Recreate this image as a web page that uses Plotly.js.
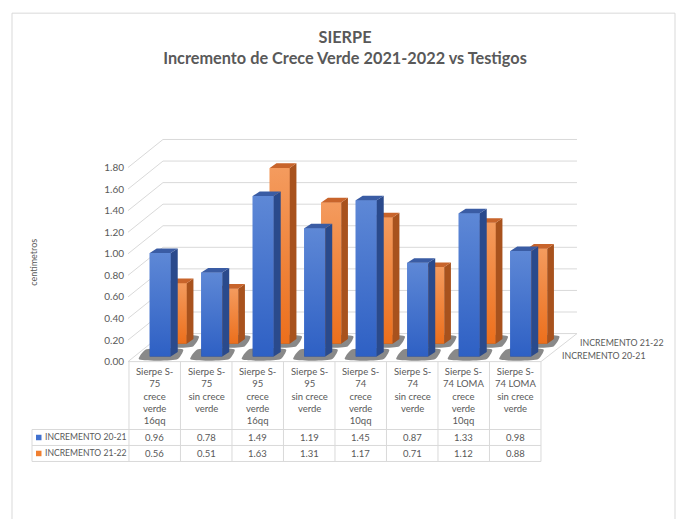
<!DOCTYPE html>
<html>
<head>
<meta charset="utf-8">
<script src="https://cdn.plot.ly/plotly-3.0.1.min.js"></script>
<style>html,body{margin:0;padding:0;background:#fff;}#chart{width:676px;height:519px;}</style>
</head>
<body>
<div id="chart"></div>
<script>
// ---- data ----
const categories = [
  "Sierpe S-<br>75<br>crece<br>verde<br>16qq",
  "Sierpe S-<br>75<br>sin crece<br>verde",
  "Sierpe S-<br>95<br>crece<br>verde<br>16qq",
  "Sierpe S-<br>95<br>sin crece<br>verde",
  "Sierpe S-<br>74<br>crece<br>verde<br>10qq",
  "Sierpe S-<br>74<br>sin crece<br>verde",
  "Sierpe S-<br>74 LOMA<br>crece<br>verde<br>10qq",
  "Sierpe S-<br>74 LOMA<br>sin crece<br>verde"
];
const inc2021 = [0.96, 0.78, 1.49, 1.19, 1.45, 0.87, 1.33, 0.98];
const inc2122 = [0.56, 0.51, 1.63, 1.31, 1.17, 0.71, 1.12, 0.88];
const seriesNames = ["INCREMENTO 20-21", "INCREMENTO 21-22"];
const yTicks = [0, 0.2, 0.4, 0.6, 0.8, 1.0, 1.2, 1.4, 1.6, 1.8];
const yTitle = "centimetros";
const chartTitle = "SIERPE<br>Incremento de Crece Verde 2021-2022 vs Testigos";

// ---- geometry / style ----
const W = 676, H = 519;
const L = 128, R = 600, T = 120;
const xRange = [-0.519, 8.646];
const yRange = [-0.05, 2.2407];
const plotH = (yRange[1] - yRange[0]) * 108;
const plotBottom = T + plotH;
const B = H - plotBottom;
const pxPerX = (R - L) / (xRange[1] - xRange[0]);
const pxPerY = 108;

const FONT = "Lato, 'Open Sans', sans-serif";
const TXT = "#595959";
const GRID = "#D9D9D9";

const blue = {front: "#4171CF", light: "#5E88D6", dark: "#2E60C4", side: "#2A4A8C", top: "#3A5CA4"};
const orange = {front: "#F07F30", light: "#F49B5E", dark: "#EC6F1C", side: "#A8521D", top: "#C8642B"};

const depth = 0.26;          // back wall offset (y units)
const wallLeft = 0.16, wallRight = 8.199, frontLeft = xRange[0], frontRight = 7.5;

const idx = categories.map((_, i) => i);

function paperX(xd) { return (xd - xRange[0]) / (xRange[1] - xRange[0]); }
function pX(px) { return (px - L) / (R - L); }
function pY(py) { return (plotBottom - py) / plotH; }

// bar geometry per series
const gBlue = {base: 5 / pxPerY, off: -5 / pxPerX, w: 21 / pxPerX, dx: 7 / pxPerX, dy: 4.5 / pxPerY};
const gOrange = {base: 18 / pxPerY, off: 12 / pxPerX, w: 20 / pxPerX, dx: 6.7 / pxPerX, dy: 4.7 / pxPerY};

function faces(vals, g) {
  const sx = [], sy = [], tx = [], ty = [], hx = [], hy = [];
  vals.forEach((v, i) => {
    const x0 = i + g.off, x1 = x0 + g.w, b = g.base, t = g.base + v;
    sx.push(x1, x1 + g.dx, x1 + g.dx, x1, x1, null);
    sy.push(b, b + g.dy, t + g.dy, t, b, null);
    tx.push(x0, x0 + g.dx, x1 + g.dx, x1, x0, null);
    ty.push(t, t + g.dy, t + g.dy, t, t, null);
    // soft floor shadow at the foot of the bar
    const s = 11 / pxPerX, e = 2.5 / pxPerY;
    hx.push(x0 - s, x1 + g.dx, x1 + g.dx + 0.5 * s, x0 - 0.4 * s, x0 - s, null);
    hy.push(b - e, b - e, b + g.dy + e, b + g.dy + e, b - e, null);
  });
  return {sx, sy, tx, ty, hx, hy};
}

function seriesTraces(vals, g, col, yax, name) {
  const f = faces(vals, g);
  const out = [
    {type: "scatter", mode: "lines", x: f.hx, y: f.hy, fill: "toself", fillcolor: "rgba(40,40,40,0.55)",
     line: {width: 0, color: "rgba(0,0,0,0)", shape: "spline", smoothing: 0.6}, yaxis: yax, showlegend: false, hoverinfo: "skip"},
    {type: "bar", x: idx, y: vals, base: g.base, width: g.w, offset: g.off,
     marker: {color: col.front, line: {width: 0}}, yaxis: yax, name: name,
     showlegend: false, hoverinfo: "y+name"}
  ];
  // vertical shading of each front face
  vals.forEach((v, i) => {
    const x0 = i + g.off, x1 = x0 + g.w, b = g.base, t = g.base + v;
    out.push({type: "scatter", mode: "lines", x: [x0, x1, x1, x0, x0], y: [b, b, t, t, b], fill: "toself",
      fillgradient: {type: "vertical", colorscale: [[0, col.dark], [1, col.light]]},
      line: {width: 0, color: col.front}, yaxis: yax, showlegend: false, hoverinfo: "skip"});
  });
  out.push(
    {type: "scatter", mode: "lines", x: f.sx, y: f.sy, fill: "toself", fillcolor: col.side,
     line: {width: 0, color: col.side}, yaxis: yax, showlegend: false, hoverinfo: "skip"},
    {type: "scatter", mode: "lines", x: f.tx, y: f.ty, fill: "toself", fillcolor: col.top,
     line: {width: 0, color: col.top}, yaxis: yax, showlegend: false, hoverinfo: "skip"}
  );
  return out;
}

const data = [
  ...seriesTraces(inc2122, gOrange, orange, "y", seriesNames[1]),
  ...seriesTraces(inc2021, gBlue, blue, "y2", seriesNames[0])
];

// ---- shapes ----
const shapes = [];
const gl = {color: GRID, width: 1};
// outer border
shapes.push({type: "rect", xref: "paper", yref: "paper", x0: pX(12), x1: pX(675), y0: pY(13), y1: pY(540),
  line: {color: GRID, width: 1}, layer: "below"});
// back wall gridlines + side diagonals
yTicks.forEach(v => {
  if (v > 0) {
    shapes.push({type: "line", xref: "x", yref: "y", x0: wallLeft, x1: wallRight, y0: v + depth, y1: v + depth, line: gl, layer: "below"});
    shapes.push({type: "line", xref: "x", yref: "y", x0: frontLeft, x1: wallLeft, y0: v, y1: v + depth, line: gl, layer: "below"});
  }
});
// floor
shapes.push({type: "path", xref: "x", yref: "y",
  path: `M${frontLeft},0 L${frontRight},0 L${wallRight},${depth} L${wallLeft},${depth} Z`,
  line: gl, fillcolor: "rgba(255,255,255,0)", layer: "below"});

// ---- data table ----
const tTop = 362, tHead = 430, tRow1 = 446, tBot = 462, tLeft = 32;
const colEdges = categories.map((_, k) => paperX(k - 0.5)).concat([paperX(categories.length - 0.5)]);
colEdges.forEach(xe => {
  shapes.push({type: "line", xref: "paper", yref: "paper", x0: xe, x1: xe, y0: pY(tTop), y1: pY(tBot), line: gl});
});
[tHead, tRow1, tBot].forEach(yy => {
  shapes.push({type: "line", xref: "paper", yref: "paper", x0: pX(tLeft), x1: colEdges[colEdges.length - 1], y0: pY(yy), y1: pY(yy), line: gl});
});
shapes.push({type: "line", xref: "paper", yref: "paper", x0: pX(tLeft), x1: pX(tLeft), y0: pY(tHead), y1: pY(tBot), line: gl});
// legend keys in table
[[blue.front, (tHead + tRow1) / 2], [orange.front, (tRow1 + tBot) / 2]].forEach(([c, yc]) => {
  shapes.push({type: "rect", xref: "paper", yref: "paper", x0: pX(36), x1: pX(41.5), y0: pY(yc - 2.75), y1: pY(yc + 2.75),
    fillcolor: c, line: {width: 0}});
});

const annotations = [];
// header
categories.forEach((c, i) => {
  annotations.push({xref: "paper", yref: "paper", x: paperX(i), y: pY(tTop + 2), xanchor: "center", yanchor: "top",
    text: c, showarrow: false, font: {family: FONT, size: 9.5, color: TXT}, align: "center"});
});
// values
[[inc2021, (tHead + tRow1) / 2], [inc2122, (tRow1 + tBot) / 2]].forEach(([vals, yc]) => {
  vals.forEach((v, i) => {
    annotations.push({xref: "paper", yref: "paper", x: paperX(i), y: pY(yc), xanchor: "center", yanchor: "middle",
      text: v.toFixed(2), showarrow: false, font: {family: FONT, size: 9.5, color: TXT}});
  });
});
// row labels
[[seriesNames[0], (tHead + tRow1) / 2], [seriesNames[1], (tRow1 + tBot) / 2]].forEach(([n, yc]) => {
  annotations.push({xref: "paper", yref: "paper", x: pX(42.5), y: pY(yc), xanchor: "left", yanchor: "middle",
    text: n, showarrow: false, font: {family: FONT, size: 8.6, color: TXT}});
});
// depth-axis labels (series names at right)
annotations.push({xref: "paper", yref: "paper", x: pX(578), y: pY(343), xanchor: "left", yanchor: "middle",
  text: seriesNames[1], showarrow: false, font: {family: FONT, size: 8.8, color: TXT}});
annotations.push({xref: "paper", yref: "paper", x: pX(560), y: pY(356), xanchor: "left", yanchor: "middle",
  text: seriesNames[0], showarrow: false, font: {family: FONT, size: 8.8, color: TXT}});
// y title
annotations.push({xref: "paper", yref: "paper", x: pX(34), y: pY(263), xanchor: "center", yanchor: "middle",
  text: yTitle, textangle: -90, showarrow: false, font: {family: FONT, size: 9, color: TXT}});

const layout = {
  width: W, height: H,
  margin: {l: L, r: W - R, t: T, b: B, pad: 0},
  paper_bgcolor: "#fff", plot_bgcolor: "rgba(0,0,0,0)",
  font: {family: FONT, color: TXT},
  title: {text: "<b>" + chartTitle.split("<br>").join("</b><br><b>") + "</b>",
    font: {family: FONT, size: 16.3, color: TXT}, x: 345 / W, xref: "container", xanchor: "center",
    y: 1 - 43 / H, yref: "container", yanchor: "top"},
  showlegend: false,
  barmode: "overlay",
  xaxis: {range: xRange, visible: false, fixedrange: true},
  yaxis: {range: yRange, tickvals: yTicks, ticktext: yTicks.map(v => v.toFixed(2)),
    showgrid: false, zeroline: false, showline: false, ticks: "", ticklabelstandoff: 3,
    tickfont: {family: FONT, size: 10, color: TXT}, fixedrange: true},
  yaxis2: {range: yRange, overlaying: "y", visible: false, fixedrange: true},
  shapes: shapes,
  annotations: annotations
};

Plotly.newPlot("chart", data, layout, {displayModeBar: false, staticPlot: true});
</script>
</body>
</html>
